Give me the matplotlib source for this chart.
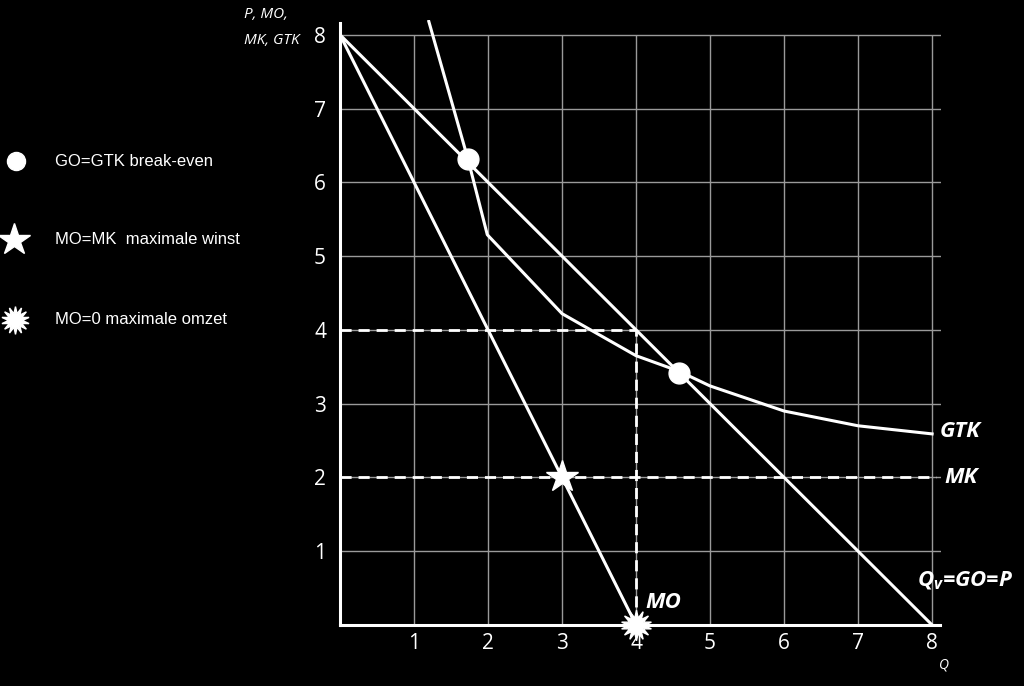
import numpy as np
import matplotlib
matplotlib.use("Agg")
import matplotlib.pyplot as plt

# data
q_vraag = [0, 8]
p_vraag = [8, 0]          # Qv = GO = P
q_mo = [0, 4]
p_mo = [8, 0]             # MO
mk = 2                    # MK
q_gtk = [1.20, 1.73, 1.99, 3.0, 4.0, 4.58, 5.0, 6.0, 7.0, 8.0]
p_gtk = [8.18, 6.31, 5.29, 4.22, 3.65, 3.44, 3.24, 2.90, 2.70, 2.59]
break_even_q = [1.73, 4.58]
break_even_p = [6.31, 3.42]
max_winst = (3, 2)
max_omzet = (4, 0)
ticks = [1, 2, 3, 4, 5, 6, 7, 8]

plt.rcParams['font.family'] = ['Open Sans', 'DejaVu Sans']
fig = plt.figure(figsize=(10.24, 6.86), dpi=100, facecolor='black')
ax = fig.add_axes([340/1024, 61/686, 601/1024, 605/686], facecolor='black')
ax.set_xlim(0, 8.12)
ax.set_ylim(0, 8.2)

# grid
ax.vlines(ticks, 0, 8, color='#9a9a9a', lw=1.0, zorder=1)
ax.hlines(ticks, 0, 8.12, color='#9a9a9a', lw=1.0, zorder=1)

# dashed helper lines
ax.plot([0, 8.05], [mk, mk], color='white', lw=2, ls=(0, (4, 2.5)), zorder=2)
ax.plot([0, 4], [4, 4], color='white', lw=2, ls=(0, (4, 2.5)), zorder=2)
ax.plot([4, 4], [0, 4], color='white', lw=2, ls=(0, (4, 2.5)), zorder=2)

# curves
ax.plot(q_vraag, p_vraag, color='white', lw=2.2, zorder=3)
ax.plot(q_mo, p_mo, color='white', lw=2.2, zorder=3)
ax.plot(q_gtk, p_gtk, color='white', lw=2.2, zorder=3)

# points
ax.plot(break_even_q, break_even_p, 'o', color='white', ms=15, zorder=4, clip_on=False)
ax.plot(*max_winst, marker='*', color='white', ms=24, zorder=4)
ax.plot(*max_omzet, marker=(14, 1, 0), color='white', ms=22, zorder=4, clip_on=False)

# spines
for s in ['top', 'right']:
    ax.spines[s].set_visible(False)
for s in ['left', 'bottom']:
    ax.spines[s].set_color('white')
    ax.spines[s].set_linewidth(2.2)
ax.spines['bottom'].set_bounds(0, 8.1)
ax.spines['left'].set_bounds(0, 8.16)

ax.set_xticks(ticks)
ax.set_yticks(ticks)
ax.tick_params(colors='white', length=0, labelsize=15)
ax.tick_params(axis='x', pad=6)
ax.tick_params(axis='y', pad=10)

# curve labels
lab = dict(color='white', fontweight='bold', fontstyle='italic', fontsize=16)
ax.text(8.1, 2.62, 'GTK', va='center', ha='left', clip_on=False, **lab)
ax.text(8.17, 2.0, 'MK', va='center', ha='left', clip_on=False, **lab)
ax.text(7.8, 0.6, r'Q$_\mathregular{v}$=GO=P', va='center', ha='left', clip_on=False, **lab)
ax.text(4.12, 0.3, 'MO', va='center', ha='left', **lab)

# axis titles
fig.text(244/1024, 1 - 15/686, 'P, MO,', color='white', fontstyle='italic', fontsize=11, va='center', ha='left')
fig.text(244/1024, 1 - 40/686, 'MK, GTK', color='white', fontstyle='italic', fontsize=11, va='center', ha='left')
fig.text(944/1024, 1 - 665/686, 'Q', color='white', fontstyle='italic', fontsize=10, va='center', ha='center')

# legend at the left
leg = dict(color='white', fontsize=12, va='center', ha='left', family=['Liberation Sans', 'DejaVu Sans'])
lax = fig.add_axes([0, 0, 1, 1], facecolor='none')
lax.set_xlim(0, 1024)
lax.set_ylim(686, 0)
lax.axis('off')
lax.plot(16, 161, 'o', color='white', ms=13)
lax.plot(14, 240, '*', color='white', ms=24)
lax.plot(15, 320, marker=(14, 1, 0), color='white', ms=20)
lax.text(55, 161, 'GO=GTK break-even', **leg)
lax.text(55, 240, 'MO=MK  maximale winst', **leg)
lax.text(55, 320, 'MO=0 maximale omzet', **leg)

fig.savefig('out.png', dpi=100, facecolor='black')
